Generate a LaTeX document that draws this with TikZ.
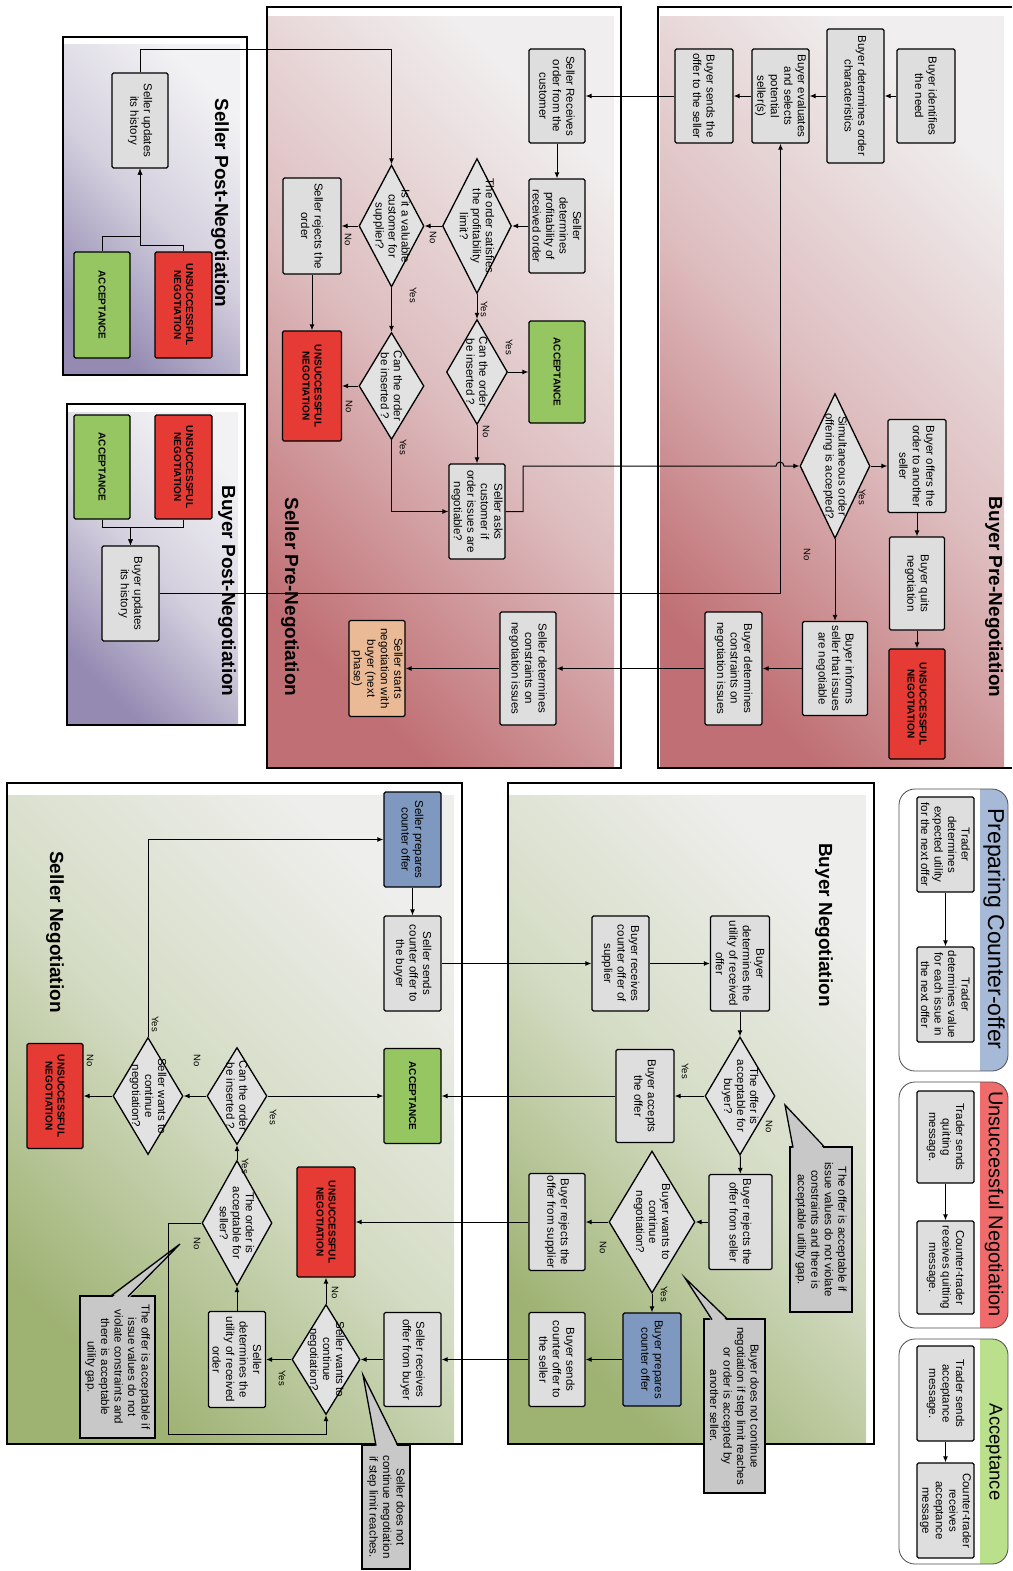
\documentclass[tikz,border=0pt]{standalone}
\usepackage{fontspec}
\setmainfont{Liberation Sans}
\usetikzlibrary{shapes.geometric,arrows.meta}

\definecolor{boxgray}{RGB}{222,222,222}
\definecolor{diagray}{RGB}{226,226,226}
\definecolor{redfill}{RGB}{230,58,52}
\definecolor{greenfill}{RGB}{150,198,98}
\definecolor{bluefill}{RGB}{126,152,192}
\definecolor{peachfill}{RGB}{234,186,150}
\definecolor{calloutgray}{RGB}{200,200,200}
\definecolor{prelight}{RGB}{240,238,238}
\definecolor{premid}{RGB}{222,190,192}
\definecolor{predark}{RGB}{192,112,116}
\definecolor{postlight}{RGB}{242,242,244}
\definecolor{postmid}{RGB}{212,208,222}
\definecolor{postdark}{RGB}{148,138,178}
\definecolor{neglight}{RGB}{238,238,236}
\definecolor{negmid}{RGB}{212,220,196}
\definecolor{negdark}{RGB}{158,178,114}
\definecolor{bandblue}{RGB}{166,186,216}
\definecolor{bandred}{RGB}{240,108,108}
\definecolor{bandgreen}{RGB}{186,224,140}

\begin{document}
\begin{tikzpicture}[x=1pt,y=1pt,
  every node/.append style={rotate=-90},
  sz/.style 2 args={minimum width=#1,minimum height=#2},
  box/.style={draw=black,line width=1.3pt,fill=boxgray,rounded corners=1.5pt,align=center,inner sep=1pt,font=\fontsize{11.5}{13.5}\selectfont},
  redbox/.style={box,fill=redfill,font=\fontsize{10}{12}\selectfont\bfseries},
  greenbox/.style={box,fill=greenfill,font=\fontsize{10}{12}\selectfont\bfseries},
  bluebox/.style={box,fill=bluefill},
  peachbox/.style={box,fill=peachfill},
  dia/.style={diamond,draw=black,line width=1.3pt,fill=diagray,inner sep=0pt},
  diatext/.style={align=center,inner sep=0pt,font=\fontsize{11.5}{13}\selectfont},
  callout/.style={draw=black,line width=1.3pt,fill=calloutgray,align=center,inner sep=2pt,font=\fontsize{11.5}{13.5}\selectfont},
  arr/.style={line width=1pt,-{Latex[length=6pt,width=5pt]}},
  yn/.style={inner sep=0pt,font=\fontsize{9.5}{11}\selectfont},
  ptitle/.style={inner sep=0pt,font=\fontsize{19}{22}\selectfont\bfseries},
  lgtitle/.style={inner sep=0pt,font=\fontsize{20}{24}\selectfont},
  panelline/.style={line width=1.5pt},
  legline/.style={line width=0.8pt,draw=black!70},
]
\useasboundingbox (0,0) rectangle (1012,-1571);

% ---------- phase panels ----------
\shade[top color=prelight,bottom color=predark,middle color=premid,shading angle=-45] (660,-17) rectangle (1004,-767);
\draw[panelline] (1012,-7) -- (658,-7) -- (658,-768) -- (1012,-768);
\shade[top color=prelight,bottom color=predark,middle color=premid,shading angle=-45] (268,-17) rectangle (614,-767);
\draw[panelline] (267,-7) rectangle (621,-768);
\shade[top color=postlight,bottom color=postdark,middle color=postmid,shading angle=-45] (64,-45) rectangle (240,-374);
\draw[panelline] (63,-37) rectangle (247,-375);
\shade[top color=postlight,bottom color=postdark,middle color=postmid,shading angle=-45] (68,-412) rectangle (238,-724);
\draw[panelline] (67,-404) rectangle (245,-725);
\shade[top color=neglight,bottom color=negdark,middle color=negmid,shading angle=-45] (509,-795) rectangle (866,-1443);
\draw[panelline] (508,-783) rectangle (874,-1444);
\shade[top color=neglight,bottom color=negdark,middle color=negmid,shading angle=-45] (8,-795) rectangle (454,-1443);
\draw[panelline] (7,-783) rectangle (462,-1444);

% ---------- legend groups ----------
\begin{scope}
  \clip[rounded corners=16] (899,-789) rectangle (1008,-1071);
  \fill[white] (899,-789) rectangle (1008,-1071);
  \fill[bandblue] (980,-789) rectangle (1008,-1071);
\end{scope}
\draw[legline,rounded corners=16] (899,-789) rectangle (1008,-1071);
\begin{scope}
  \clip[rounded corners=16] (899,-1082) rectangle (1008,-1328);
  \fill[white] (899,-1082) rectangle (1008,-1328);
  \fill[bandred] (980,-1082) rectangle (1008,-1328);
\end{scope}
\draw[legline,rounded corners=16] (899,-1082) rectangle (1008,-1328);
\begin{scope}
  \clip[rounded corners=16] (899,-1339) rectangle (1008,-1564);
  \fill[white] (899,-1339) rectangle (1008,-1564);
  \fill[bandgreen] (980,-1339) rectangle (1008,-1564);
\end{scope}
\draw[legline,rounded corners=16] (899,-1339) rectangle (1008,-1564);

% ---------- titles ----------
\node[ptitle] (tbpre) at (994,-597) {Buyer Pre-Negotiation};
\node[ptitle] (tspre) at (290,-597) {Seller Pre-Negotiation};
\node[ptitle] (tspost) at (220,-203) {Seller Post-Negotiation};
\node[ptitle] (tbpost) at (227,-591) {Buyer Post-Negotiation};
\node[ptitle] (tbneg) at (824,-925) {Buyer Negotiation};
\node[ptitle] (tsneg) at (55,-932) {Seller Negotiation};
\node[lgtitle,font=\fontsize{23}{26}\selectfont] (tlg1) at (994,-929) {Preparing Counter-offer};
\node[lgtitle] (tlg2) at (994,-1204) {Unsuccessful Negotiation};
\node[lgtitle,font=\fontsize{18.5}{22}\selectfont] (tlg3) at (994,-1452) {Acceptance};

% ---------- legend steps ----------
\node[box,sz={95}{57}] (lg1) at (945.5,-844.5) {Trader\\determines\\expected utility\\for the next offer};
\node[box,sz={95}{57}] (lg2) at (945.5,-994.5) {Trader\\determines value\\for each issue in\\the next offer};
\node[box,sz={92}{57}] (lg3) at (945.5,-1137) {Trader sends\\quitting\\message.};
\node[box,sz={93}{57}] (lg4) at (945.5,-1267.5) {Counter-trader\\receives quitting\\message.};
\node[box,sz={95}{57}] (lg5) at (945.5,-1393.5) {Trader sends\\acceptance\\message.};
\node[box,sz={95}{57}] (lg6) at (945.5,-1510.5) {Counter-trader\\receives\\acceptance\\message};
\draw[arr] (lg1) -- (lg2);
\draw[arr] (lg3) -- (lg4);
\draw[arr] (lg5) -- (lg6);

% ---------- buyer pre-negotiation ----------
\node[box,sz={94}{58}] (bp1) at (926,-96) {Buyer identifies\\the need};
\node[box,sz={134}{57}] (bp2) at (855.5,-96) {Buyer determines order\\characteristics};
\node[box,sz={94}{57}] (bp3) at (780.5,-96) {Buyer evaluates\\and selects\\potential\\seller(s)};
\node[box,sz={94}{58}] (bp4) at (704,-96) {Buyer sends the\\offer to the seller};
\node[dia,sz={145}{70}] (bpd) at (835,-466) {};
\node[diatext] (bpdt) at (bpd) {Simultaneous order\\offering is accepted?};
\node[box,sz={93}{58}] (bp5) at (917,-466) {Buyer offers the\\order to another\\seller};
\node[box,sz={93}{55}] (bp6) at (917,-583.5) {Buyer quits\\negotiation};
\node[redbox,sz={110}{56}] (bpu) at (917,-704) {UNSUCCESSFUL\\NEGOTIATION};
\node[box,sz={94}{65}] (bp7) at (835,-668.5) {Buyer informs\\seller that issues\\are negotiable};
\node[box,sz={113}{57}] (bp8) at (733.5,-668.5) {Buyer determines\\constraints on\\negotiation issues};

% ---------- seller pre-negotiation ----------
\node[box,sz={94}{56}] (sp1) at (557,-96) {Seller Receives\\order from the\\customer};
\node[box,sz={94}{56}] (sp2) at (557,-226) {Seller\\determines\\profitability of\\received order};
\node[dia,sz={135}{69}] (spd1) at (477,-226) {};
\node[diatext] (spd1t) at (spd1) {The order satisfies\\the profitability\\limit?};
\node[dia,sz={122}{65}] (spd2) at (391.5,-226) {};
\node[diatext] (spd2t) at (spd2) {Is it a valuable\\customer for\\supplier?};
\node[box,sz={96}{58}] (sp3) at (312,-226) {Seller rejects the\\order};
\node[redbox,sz={110}{59}] (spu) at (312,-386) {UNSUCCESSFUL\\NEGOTIATION};
\node[dia,sz={107}{65}] (spd3) at (391.5,-386) {};
\node[diatext] (spd3t) at (spd3) {Can the order\\be inserted ?};
\node[dia,sz={105}{61}] (spd4) at (477,-372) {};
\node[diatext] (spd4t) at (spd4) {Can the order\\be inserted ?};
\node[greenbox,sz={102}{56}] (spa) at (557,-372) {ACCEPTANCE};
\node[box,sz={95}{56}] (sp4) at (477,-511.5) {Seller asks\\customer if\\order issues are\\negotiable?};
\node[box,sz={113}{56}] (sp5) at (528,-668.5) {Seller determines\\constraints on\\negotiation issues};
\node[peachbox,sz={96}{56}] (sp6) at (377,-668.5) {Seller starts\\negotiation with\\buyer (next\\phase)};

% ---------- post-negotiation ----------
\node[box,sz={95}{56}] (spo1) at (140,-120.5) {Seller updates\\its history};
\node[redbox,sz={106}{57}] (spou) at (183.5,-305) {UNSUCCESSFUL\\NEGOTIATION};
\node[greenbox,sz={106}{56}] (spoa) at (102,-305) {ACCEPTANCE};
\node[redbox,sz={104}{57}] (bpou) at (183.5,-467) {UNSUCCESSFUL\\NEGOTIATION};
\node[greenbox,sz={104}{56}] (bpoa) at (102,-467) {ACCEPTANCE};
\node[box,sz={95}{57}] (bpo1) at (130.5,-593.5) {Buyer updates\\its history};

% ---------- buyer negotiation ----------
\node[box,sz={95}{59}] (bn1) at (740,-963.5) {Buyer\\determines the\\utility of received\\offer};
\node[box,sz={95}{57}] (bn2) at (620.5,-963.5) {Buyer receives\\counter offer of\\supplier};
\node[dia,sz={118}{70}] (bnd1) at (740,-1096) {};
\node[diatext] (bnd1t) at (bnd1) {The offer is\\acceptable for\\buyer?};
\node[box,sz={93}{58}] (bn3) at (645,-1096) {Buyer accepts\\the offer};
\node[box,sz={95}{63}] (bn4) at (740.5,-1222) {Buyer rejects the\\offer from seller};
\node[dia,sz={142}{86}] (bnd2) at (652,-1222) {};
\node[diatext] (bnd2t) at (bnd2) {Buyer wants to\\continue\\negotiation?};
\node[box,sz={97}{56}] (bn5) at (557,-1222) {Buyer rejects the\\offer from supplier};
\node[bluebox,sz={93}{58}] (bn6) at (652,-1359.5) {Buyer prepares\\counter offer};
\node[box,sz={94}{56}] (bn7) at (557,-1359.5) {Buyer sends\\counter offer to\\the seller};
\node[callout,sz={165}{62}] (bnc1) at (821,-1229.5) {The offer is acceptable if\\issue values do not violate\\constraints and there is\\acceptable utility gap.};
\node[callout,sz={174}{61}] (bnc2) at (734.5,-1406) {Buyer does not continue\\negotiation if step limit reaches\\or order is accepted by\\another seller.};

% ---------- seller negotiation ----------
\node[bluebox,sz={95}{57}] (sn1) at (412.5,-839.5) {Seller prepares\\counter offer};
\node[box,sz={95}{57}] (sn2) at (412.5,-963.5) {Seller sends\\counter offer to\\the buyer};
\node[greenbox,sz={95}{57}] (sna) at (412.5,-1096) {ACCEPTANCE};
\node[dia,sz={97}{60}] (snd1) at (237,-1096) {};
\node[diatext] (snd1t) at (snd1) {Can the order\\be inserted ?};
\node[dia,sz={117}{70}] (snd2) at (148,-1096) {};
\node[diatext] (snd2t) at (snd2) {Seller wants to\\continue\\negotiation?};
\node[redbox,sz={105}{56}] (snu1) at (55,-1096) {UNSUCCESSFUL\\NEGOTIATION};
\node[dia,sz={125}{70}] (snd3) at (237,-1223) {};
\node[diatext] (snd3t) at (snd3) {The order is\\acceptable for\\seller?};
\node[redbox,sz={110}{58}] (snu2) at (326,-1222) {UNSUCCESSFUL\\NEGOTIATION};
\node[box,sz={96}{57}] (sn3) at (237,-1359.5) {Seller\\determines the\\utility of received\\order};
\node[dia,sz={110}{68}] (snd4) at (326,-1359.5) {};
\node[diatext] (snd4t) at (snd4) {Seller wants to\\continue\\negotiation?};
\node[box,sz={94}{57}] (sn4) at (412.5,-1359.5) {Seller receives\\offer from buyer};
\node[callout,sz={142}{75}] (snc1) at (117.5,-1367) {The offer is acceptable if\\issue values do not\\violate constraints and\\there is acceptable\\utility gap.};
\node[callout,sz={124}{48}] (snc2) at (386,-1507) {Seller does not\\continue negotiation\\if step limit reaches.};

% ---------- callout pointers ----------
\fill[calloutgray] (785,-1105) -- (793,-1150) -- (825,-1150) -- cycle;
\draw[line width=1.3pt] (793,-1147.6) -- (785,-1105) -- (825,-1147.6);
\fill[calloutgray] (685,-1278) -- (712,-1322) -- (728,-1322) -- cycle;
\draw[line width=1.3pt] (712,-1319.6) -- (685,-1278) -- (728,-1319.6);
\fill[calloutgray] (180,-1244) -- (110,-1299) -- (128,-1299) -- cycle;
\draw[line width=1.3pt] (110,-1296.6) -- (180,-1244) -- (128,-1296.6);
\fill[calloutgray] (363,-1375) -- (376,-1448) -- (398,-1448) -- cycle;
\draw[line width=1.3pt] (376,-1445.6) -- (363,-1375) -- (398,-1445.6);

% ---------- connectors: buyer pre-negotiation ----------
\draw[arr] (bp1) -- (bp2);
\draw[arr] (bp2) -- (bp3);
\draw[arr] (bp3) -- (bp4);
\draw[arr] (bp4) -- (sp1);
\draw[arr] (bpd) -- (bp5);
\draw[arr] (bp5) -- (bp6);
\draw[arr] (bp6) -- (bpu);
\draw[arr] (bpd) -- (bp7);
\draw[arr] (bp7) -- (bp8);
\draw[arr] (bp8) -- (sp5);
\draw[arr] (sp5) -- (sp6);
\draw[arr] (bpo1.north) -| (bp3.east);

% ---------- connectors: seller pre-negotiation ----------
\draw[arr] (sp1) -- (sp2);
\draw[arr] (sp2) -- (spd1);
\draw[arr] (spd1) -- (spd2);
\draw[arr] (spd2) -- (sp3);
\draw[arr] (sp3) -- (spu);
\draw[arr] (spd1) -- (spd4);
\draw[arr] (spd4) -- (spa);
\draw[arr] (spd4) -- (sp4);
\draw[arr] (spd2) -- (spd3);
\draw[arr] (spd3) -- (spu);
\draw[arr] (spd3.east) |- (sp4.south);
\draw[arr] (sp4.north) -- (523,-511.5) -- (523,-466) -- (776,-466)
  arc[start angle=180,end angle=0,radius=4] -- (bpd.south);

% ---------- connectors: post-negotiation ----------
\draw[arr] (spo1.west) -- (140,-50) -| (spd2.west);
\draw[arr] (spou.west) -- (183.5,-245) -| (spo1.east);
\draw[arr] (spoa.west) -- (102,-236) -| (spo1.east);
\draw[arr] (bpou.east) -- (183.5,-527) -| (bpo1.west);
\draw[arr] (bpoa.east) -- (102,-527) -| (bpo1.west);

% ---------- connectors: negotiation ----------
\draw[arr] (sn1) -- (sn2);
\draw[arr] (sn2) -- (bn2);
\draw[arr] (bn2) -- (bn1);
\draw[arr] (bn1) -- (bnd1);
\draw[arr] (bnd1) -- (bn3);
\draw[arr] (bnd1) -- (bn4);
\draw[arr] (bn3) -- (sna);
\draw[arr] (bn4) -- (bnd2);
\draw[arr] (bnd2) -- (bn5);
\draw[arr] (bn5) -- (snu2);
\draw[arr] (bnd2) -- (bn6);
\draw[arr] (bn6) -- (bn7);
\draw[arr] (bn7) -- (sn4);
\draw[arr] (sn4) -- (snd4);
\draw[arr] (snd4) -- (sn3);
\draw[arr] (snd4) -- (snu2);
\draw[arr] (sn3) -- (snd3);
\draw[arr] (snd3) -- (snd1);
\draw[arr] (snd1) -- (sna);
\draw[arr] (snd1) -- (snd2);
\draw[arr] (snd2) -- (snu1);
\draw[arr] (snd2.west) |- (sn1.south);
\draw[arr] (snd3.south) -| (168,-1434) -| (snd4.east);

% ---------- yes / no labels ----------
\node[yn] (l1) at (862,-497) {Yes};
\node[yn] (l2) at (807,-555) {No};
\node[yn] (l3) at (484,-309) {Yes};
\node[yn] (l4) at (433,-238) {No};
\node[yn] (l5) at (348,-240) {No};
\node[yn] (l6) at (413,-295) {Yes};
\node[yn] (l7) at (349,-407) {No};
\node[yn] (l8) at (403,-447) {Yes};
\node[yn] (l9) at (509,-347) {Yes};
\node[yn] (l10) at (486,-432) {No};
\node[yn] (l11) at (685,-1071) {Yes};
\node[yn] (l12) at (769,-1127) {No};
\node[yn] (l13) at (603,-1248) {No};
\node[yn] (l14) at (664,-1294) {Yes};
\node[yn] (l15) at (273,-1117) {Yes};
\node[yn] (l16) at (197,-1061) {No};
\node[yn] (l17) at (155,-1024) {Yes};
\node[yn] (l18) at (90,-1061) {No};
\node[yn] (l19) at (245,-1166) {Yes};
\node[yn] (l20) at (197,-1244) {No};
\node[yn] (l21) at (335,-1293) {No};
\node[yn] (l22) at (282,-1378) {Yes};
\end{tikzpicture}
\end{document}
